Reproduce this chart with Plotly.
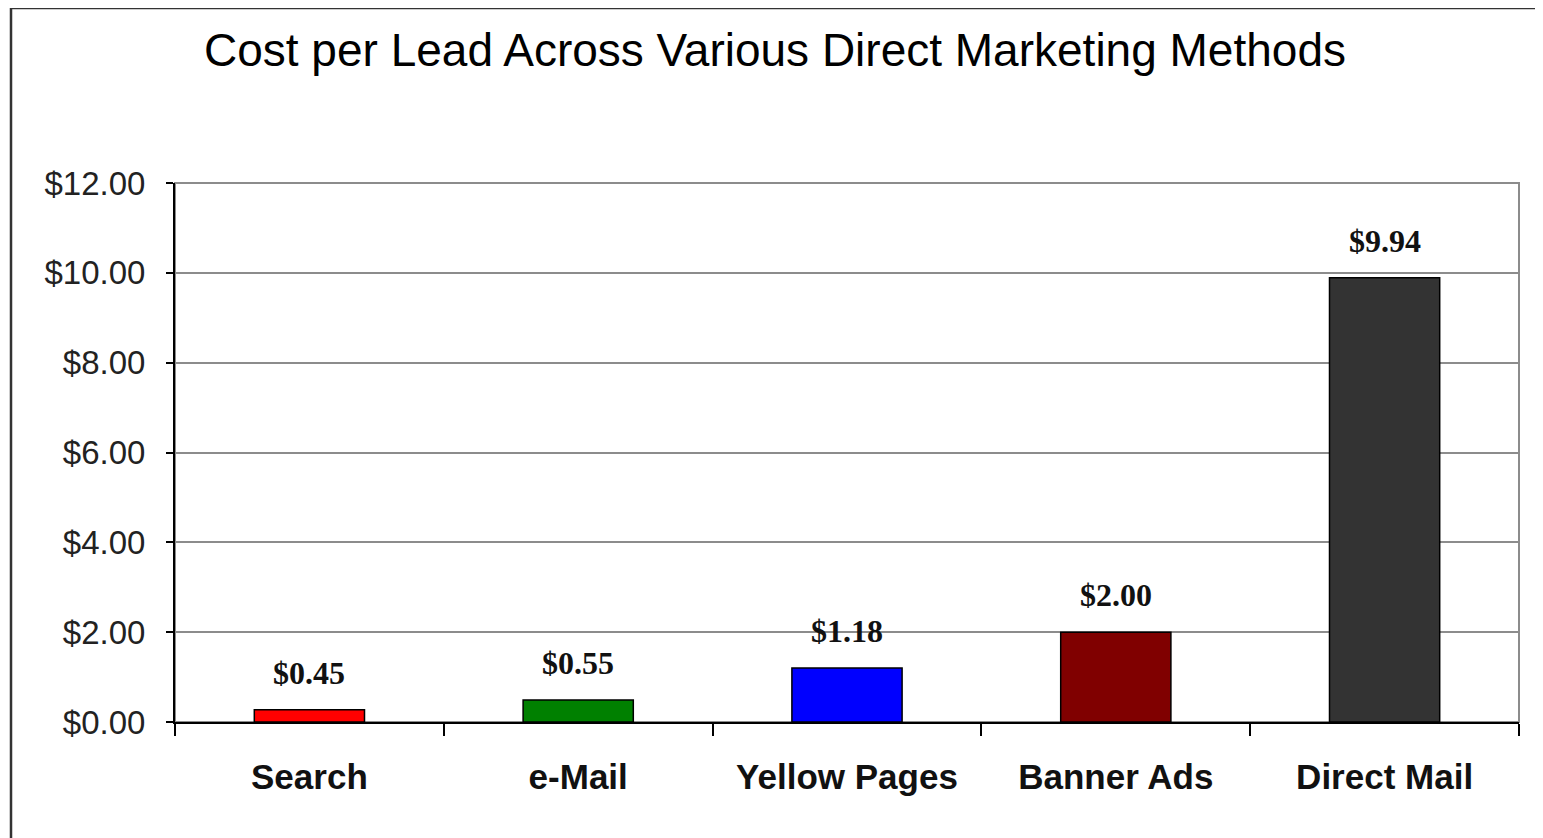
import plotly.graph_objects as go

# values
methods = ["Search", "e-Mail", "Yellow Pages", "Banner Ads", "Direct Mail"]
bar_heights = [0.27, 0.49, 1.20, 2.00, 9.89]
value_labels = ["$0.45", "$0.55", "$1.18", "$2.00", "$9.94"]
bar_colors = ["#ff0000", "#008000", "#0000ff", "#800000", "#333333"]
y_ticks = [0, 2, 4, 6, 8, 10, 12]
y_tick_text = ["$0.00", "$2.00", "$4.00", "$6.00", "$8.00", "$10.00", "$12.00"]

fig = go.Figure()

fig.add_trace(go.Bar(
    x=methods,
    y=bar_heights,
    marker=dict(color=bar_colors, line=dict(color="#000000", width=1.5)),
    hoverinfo="skip",
    showlegend=False))

for name, val, label in zip(methods, bar_heights, value_labels):
    fig.add_annotation(
        x=name, y=val, text=label, showarrow=False,
        yanchor="bottom", yshift=17,
        font=dict(family="Liberation Serif", size=32, color="#111111", weight="bold"))

# outer frame (only the top and left edges are visible in the picture)
fig.add_shape(type="rect", xref="paper", yref="paper",
              x0=-164 / 1344, x1=2, y0=-1, y1=714 / 539,
              line=dict(color="#333333", width=2.5), layer="below")

# gray border round the plot area (top and right)
fig.add_shape(type="rect", xref="x domain", yref="y domain",
              x0=0, x1=1, y0=0, y1=1,
              line=dict(color="#8c8c8c", width=2), layer="below")

fig.update_layout(
    width=1543, height=838,
    margin=dict(l=167, r=32, t=175, b=124),
    paper_bgcolor="white", plot_bgcolor="white",
    bargap=0.59,
    title=dict(
        text="Cost per Lead Across Various Direct Marketing Methods",
        xref="container", x=767 / 1543, xanchor="center",
        yref="container", y=1 - 42 / 838, yanchor="middle",
        font=dict(family="Liberation Sans", size=46, color="#000000")))

fig.update_xaxes(
    showline=True, linecolor="#000000", linewidth=2,
    ticks="outside", tickson="boundaries", ticklen=12, tickwidth=2,
    tickcolor="#000000", showgrid=False,
    ticklabelstandoff=23,
    tickfont=dict(family="Liberation Sans", size=35, color="#111111", weight="bold"))

fig.update_yaxes(
    range=[0, 12], tickvals=y_ticks, ticktext=y_tick_text,
    showline=True, linecolor="#000000", linewidth=2,
    ticks="outside", ticklen=7, tickwidth=2, tickcolor="#000000",
    showgrid=True, gridcolor="#8c8c8c", gridwidth=2,
    zeroline=False, ticklabelstandoff=14,
    tickfont=dict(family="Liberation Sans", size=33, color="#222222"))

fig.write_html("out.html")
